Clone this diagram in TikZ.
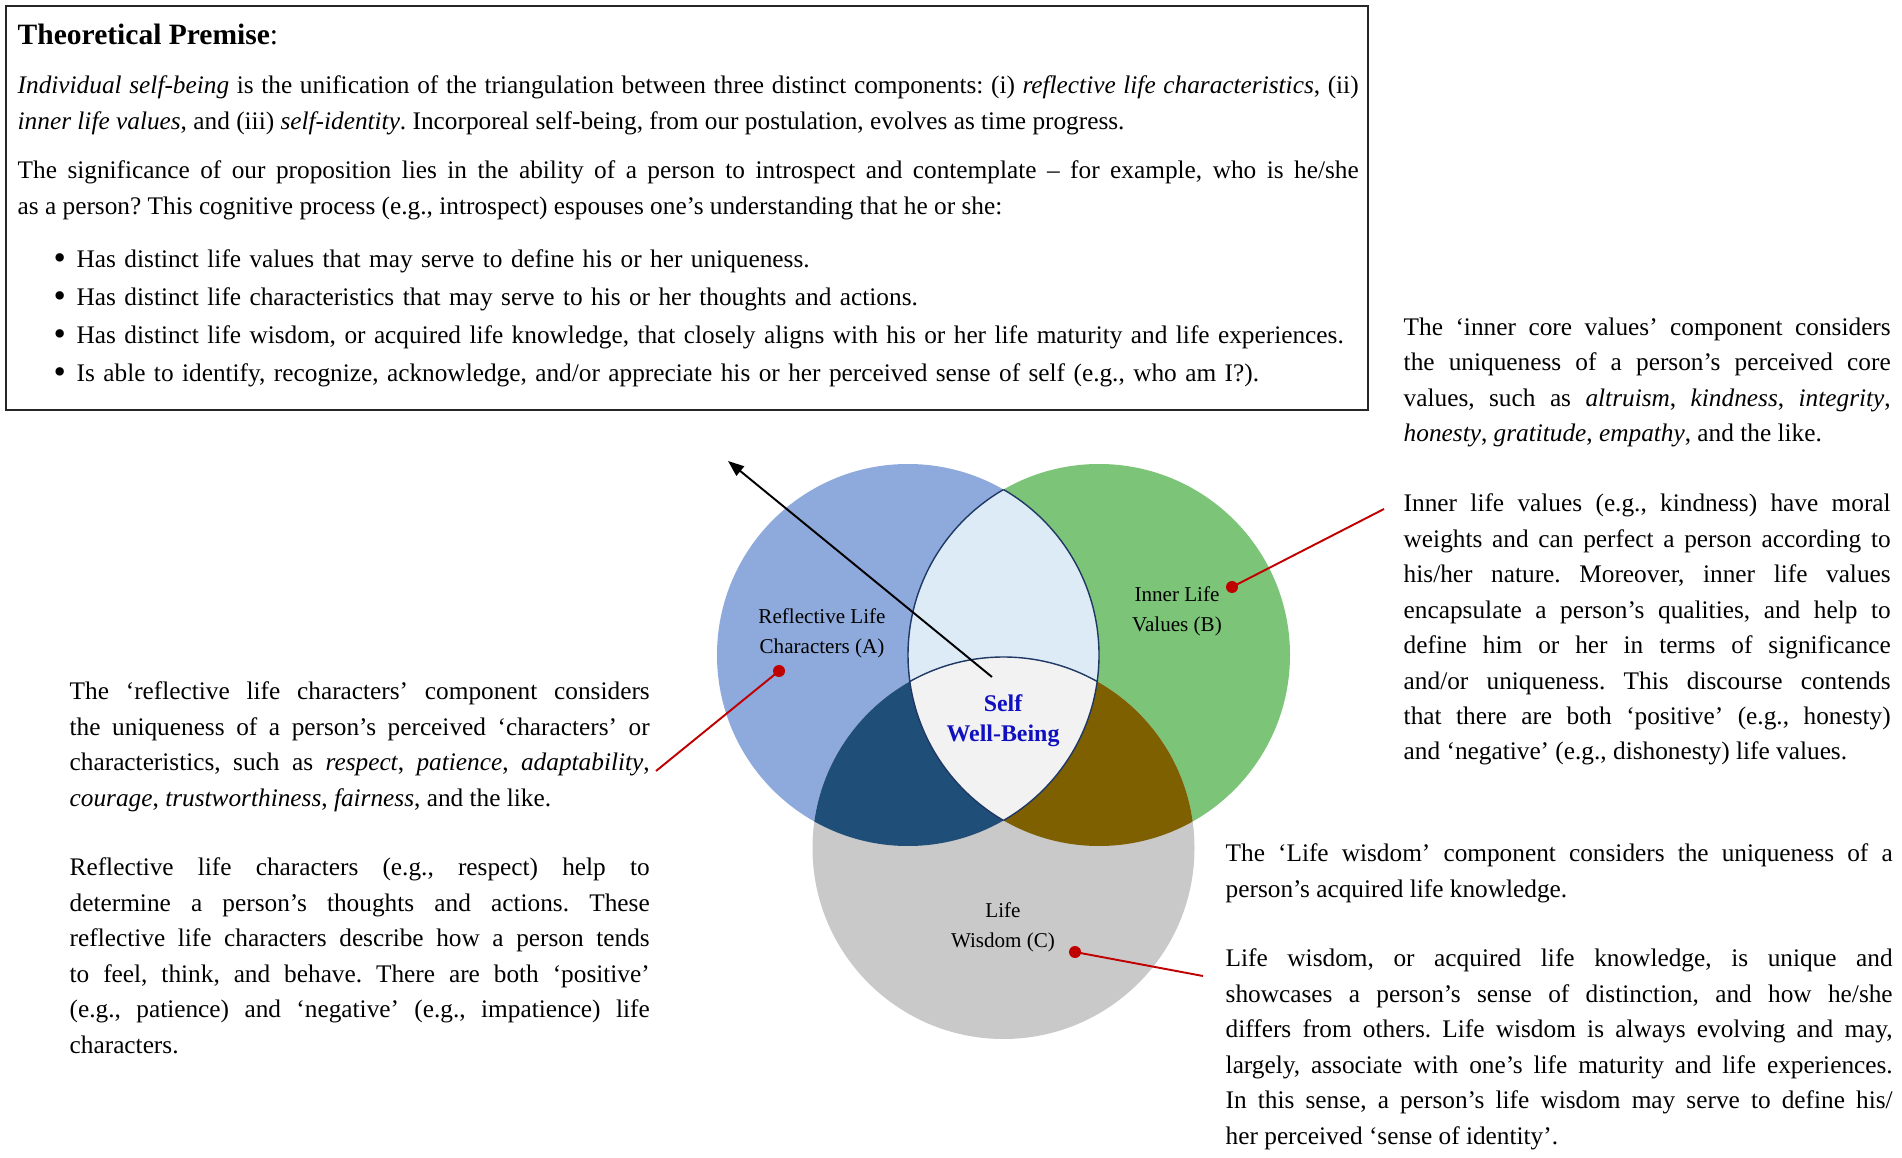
\documentclass[tikz,border=0pt]{standalone}
\usepackage{fontspec}
\setmainfont{Liberation Serif}
\usepackage{xcolor}
\usepackage{tikz}
\usetikzlibrary{arrows.meta,positioning}

\definecolor{reflblue}{RGB}{142,169,219}
\definecolor{valgreen}{RGB}{124,196,120}
\definecolor{wisgray}{RGB}{201,201,201}
\definecolor{lensblue}{RGB}{221,235,247}
\definecolor{coregray}{RGB}{242,242,242}
\definecolor{acnavy}{RGB}{31,78,121}
\definecolor{bcolive}{RGB}{127,96,0}
\definecolor{selfblue}{RGB}{16,16,192}
\definecolor{pinred}{RGB}{192,0,0}
\definecolor{lensline}{RGB}{31,56,100}

\newcommand{\vennr}{1.91}
\newcommand{\bigdot}{\makebox[0.23cm][l]{\raisebox{-0.15ex}{\fontsize{10}{10}\selectfont\textbullet}}}

\begin{document}
\begin{tikzpicture}[
    body/.style={inner sep=0pt, anchor=north west, align=justify, font=\fontsize{7.2}{10.1}\selectfont\frenchspacing},
    premise/.style={draw=black!85, line width=0.6pt, minimum width=13.62cm, minimum height=4.04cm, inner sep=0pt},
    vlabel/.style={align=center, inner sep=0pt, font=\fontsize{6}{8.5}\selectfont},
    selflabel/.style={align=center, inner sep=0pt, text=selfblue, font=\fontsize{6.8}{8.5}\selectfont\bfseries},
    reddot/.style={circle, fill=pinred, inner sep=0pt, minimum size=0.12cm},
    redline/.style={draw=pinred, line width=0.55pt},
    pointer/.style={-{Triangle[length=0.16cm, width=0.12cm]}, line width=0.55pt, draw=black}
]
    \fill[white] (0,0) rectangle (19.02,11.57);
    \useasboundingbox (0,0) rectangle (19.02,11.57);

    % Premise box
    \node[premise] (premise) at (6.87,9.49) {};
    \node[body, text width=13.41cm, font=\fontsize{8.4}{10}\selectfont] (title) at (0.17,11.34) {{\bfseries Theoretical Premise}:};
    \node[body, text width=13.41cm] (premA) at (0.17,10.82) {\textit{Individual self-being} is the unification of the triangulation between three distinct components: (i) \textit{reflective life characteristics}, (ii)\linebreak \textit{inner life values}, and (iii) \textit{self-identity}. Incorporeal self-being, from our postulation, evolves as time progress.};
    \node[body, text width=13.41cm] (premB) at (0.17,9.97) {The significance of our proposition lies in the ability of a person to introspect and contemplate -- for example, who is he/she\linebreak as a person? This cognitive process (e.g., introspect) espouses one's understanding that he or she:};
    \node[body, text width=13.2cm, align=left, font=\fontsize{7.2}{10.8}\selectfont] (bullets) at (0.53,9.08) {%
        \bigdot Has distinct life values that may serve to define his or her uniqueness.\\
        \bigdot Has distinct life characteristics that may serve to his or her thoughts and actions.\\
        \bigdot Has distinct life wisdom, or acquired life knowledge, that closely aligns with his or her life maturity and life experiences.\\
        \bigdot Is able to identify, recognize, acknowledge, and/or appreciate his or her perceived sense of self (e.g., who am I?).};

    % Venn circles
    \coordinate (cA) at (9.08,5.02);
    \coordinate (cB) at (10.99,5.02);
    \coordinate (cC) at (10.035,3.09);
    \fill[reflblue] (cA) circle (\vennr);
    \fill[valgreen] (cB) circle (\vennr);
    \fill[wisgray] (cC) circle (\vennr);
    \begin{scope}
        \clip (cA) circle (\vennr);
        \fill[lensblue] (cB) circle (\vennr);
        \fill[acnavy] (cC) circle (\vennr);
    \end{scope}
    \begin{scope}
        \clip (cB) circle (\vennr);
        \fill[bcolive] (cC) circle (\vennr);
        \clip (cA) circle (\vennr);
        \fill[coregray] (cC) circle (\vennr);
    \end{scope}
    % lens outline
    \begin{scope}
        \clip (cA) circle (\vennr);
        \draw[lensline, line width=0.4pt] (cB) circle (\vennr);
    \end{scope}
    \begin{scope}
        \clip (cB) circle (\vennr);
        \draw[lensline, line width=0.4pt] (cA) circle (\vennr);
        \clip (cA) circle (\vennr);
        \draw[lensline, line width=0.4pt] (cC) circle (\vennr);
    \end{scope}

    % Circle labels
    \node[vlabel] (lblA) at (8.22,5.24) {Reflective Life\\Characters (A)};
    \node[vlabel] (lblB) at (11.77,5.46) {Inner Life\\Values (B)};
    \node[selflabel] (lblS) at (10.03,4.36) {Self\\Well-Being};
    \node[vlabel] (lblC) at (10.03,2.30) {Life\\Wisdom (C)};

    % Pointer arrow
    \coordinate (arrtail) at (9.92,4.80);
    \coordinate (arrhead) at (7.28,6.96);
    \draw[pointer] (arrtail) -- (arrhead);

    % Red pins
    \node[reddot] (dotA) at (7.79,4.86) {};
    \node[reddot] (dotB) at (12.32,5.70) {};
    \node[reddot] (dotC) at (10.75,2.05) {};
    \coordinate (endA) at (6.56,3.86);
    \coordinate (endB) at (13.84,6.48);
    \coordinate (endC) at (12.03,1.81);
    \draw[redline] (dotA.center) -- (endA);
    \draw[redline] (dotB.center) -- (endB);
    \draw[redline] (dotC.center) -- (endC);

    % Side texts
    \node[body, text width=4.87cm] (coreA) at (14.03,8.40) {The `inner core values' component considers\linebreak the uniqueness of a person's perceived core\linebreak values, such as \textit{altruism}, \textit{kindness}, \textit{integrity},\linebreak \textit{honesty}, \textit{gratitude}, \textit{empathy}, and the like.};
    \node[body, text width=4.87cm] (coreB) at (14.03,6.64) {Inner life values (e.g., kindness) have moral\linebreak weights and can perfect a person according to\linebreak his/her nature. Moreover, inner life values\linebreak encapsulate a person's qualities, and help to\linebreak define him or her in terms of significance\linebreak and/or uniqueness. This discourse contends\linebreak that there are both `positive' (e.g., honesty)\linebreak and `negative' (e.g., dishonesty) life values.};
    \node[body, text width=5.80cm] (reflA) at (0.69,4.76) {The `reflective life characters' component considers\linebreak the uniqueness of a person's perceived `characters' or\linebreak characteristics, such as \textit{respect}, \textit{patience}, \textit{adaptability},\linebreak \textit{courage}, \textit{trustworthiness}, \textit{fairness}, and the like.};
    \node[body, text width=5.80cm] (reflB) at (0.69,3.00) {Reflective life characters (e.g., respect) help to\linebreak determine a person's thoughts and actions. These\linebreak reflective life characters describe how a person tends\linebreak to feel, think, and behave. There are both `positive'\linebreak (e.g., patience) and `negative' (e.g., impatience) life\linebreak characters.};
    \node[body, text width=6.67cm] (wisA) at (12.25,3.14) {The `Life wisdom' component considers the uniqueness of a\linebreak person's acquired life knowledge.};
    \node[body, text width=6.67cm] (wisB) at (12.25,2.09) {Life wisdom, or acquired life knowledge, is unique and\linebreak showcases a person's sense of distinction, and how he/she\linebreak differs from others. Life wisdom is always evolving and may,\linebreak largely, associate with one's life maturity and life experiences.\linebreak In this sense, a person's life wisdom may serve to define his/\linebreak her perceived `sense of identity'.};

\end{tikzpicture}
\end{document}
